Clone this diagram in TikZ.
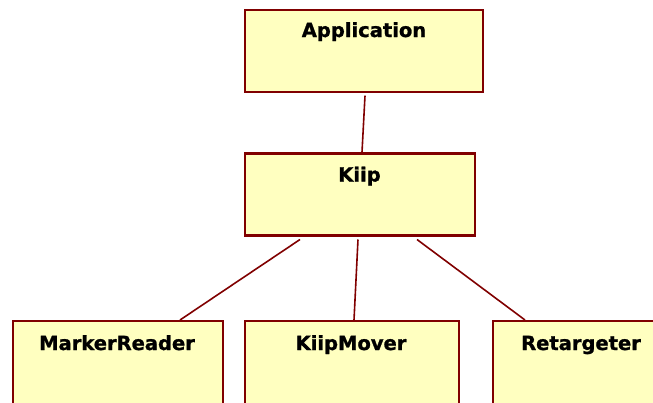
\documentclass[tikz,border=0pt]{standalone}
\usepackage{fontspec}
\setmainfont{DejaVu Sans}[BoldFeatures={FakeBold=1.2}]
\usetikzlibrary{calc}
\definecolor{boxfill}{HTML}{FFFFC0}
\definecolor{boxline}{HTML}{800000}
\begin{document}
\begin{tikzpicture}[x=1pt,y=-1pt,
  box/.style={draw=boxline, fill=boxfill, line width=2.2pt, anchor=north west, inner sep=0pt},
  title/.style={anchor=base, font=\fontsize{19.5}{22}\selectfont\bfseries, text=black, inner sep=0pt},
  link/.style={draw=boxline, line width=1.6pt}]
\useasboundingbox (0,0) rectangle (653,402);
\begin{scope}
\clip (0,0) rectangle (653,402);
\node[box, minimum width=238pt, minimum height=82pt] (app) at (243.5,8.5) {};
\node[title] (apptext) at (364,37) {Application};
\node[box, minimum width=230.5pt, minimum height=82pt] (kiip) at (243.5,152.3) {};
\node[title] (kiiptext) at (359.5,181.5) {Kiip};
\node[box, minimum width=210pt, minimum height=83pt] (mr) at (12,320) {};
\node[title] (mrtext) at (117,350) {MarkerReader};
\node[box, minimum width=214pt, minimum height=83pt] (km) at (243.5,320) {};
\node[title] (kmtext) at (351,350) {KiipMover};
\node[box, minimum width=178pt, minimum height=83pt] (rt) at (492,320) {};
\node[title] (rttext) at (581,350) {Retargeter};
\end{scope}
\coordinate (a1) at ($(app.south west)+(121.5,3)$);
\coordinate (k0) at ($(kiip.north west)+(118.5,0)$);
\coordinate (k1) at ($(kiip.south west)+(56.5,3)$);
\coordinate (k2) at ($(kiip.south west)+(114.5,3)$);
\coordinate (k3) at ($(kiip.south west)+(173.5,3)$);
\coordinate (m0) at ($(mr.north west)+(168,0)$);
\coordinate (v0) at ($(km.north west)+(110.5,0)$);
\coordinate (r0) at ($(rt.north west)+(33,0)$);
\draw[link] (a1) -- (k0);
\draw[link] (k1) -- (m0);
\draw[link] (k2) -- (v0);
\draw[link] (k3) -- (r0);
\end{tikzpicture}
\end{document}
